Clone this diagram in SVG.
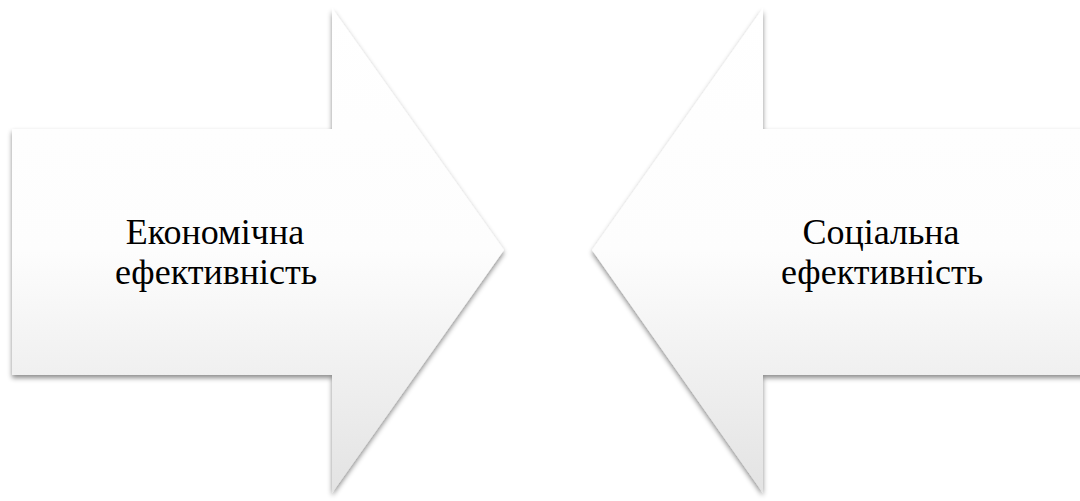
<svg xmlns="http://www.w3.org/2000/svg" width="1080" height="501" viewBox="0 0 1080 501">
  <defs>
    <linearGradient id="fill" gradientUnits="userSpaceOnUse" x1="0" y1="8" x2="0" y2="493">
      <stop offset="0" stop-color="#ffffff"/>
      <stop offset="0.5" stop-color="#fdfdfd"/>
      <stop offset="1" stop-color="#e3e3e3"/>
    </linearGradient>
    <filter id="shadow" x="-10%" y="-10%" width="120%" height="120%">
      <feDropShadow dx="0" dy="3" stdDeviation="2.5" flood-color="#000000" flood-opacity="0.45"/>
    </filter>
  </defs>
  <style>
    .arrow { fill: url(#fill); filter: url(#shadow); }
    .label { font-family: "Liberation Serif", "Times New Roman", serif; font-size: 36px; fill: #000000; text-anchor: middle; }
  </style>
  <rect width="1080" height="501" fill="#ffffff"/>
  <g id="connectors"></g>
  <g id="node-economic">
    <polygon class="arrow" points="12,129 332,129 332,8 504,250 332,493 332,375 12,375"/>
    <text class="label"><tspan x="215" y="244">Економічна</tspan><tspan x="216" y="284">ефективність</tspan></text>
  </g>
  <g id="node-social">
    <polygon class="arrow" points="1090,129 763,129 763,8 592,250 763,493 763,375 1090,375"/>
    <text class="label"><tspan x="881" y="244">Соціальна</tspan><tspan x="882" y="284">ефективність</tspan></text>
  </g>
</svg>
